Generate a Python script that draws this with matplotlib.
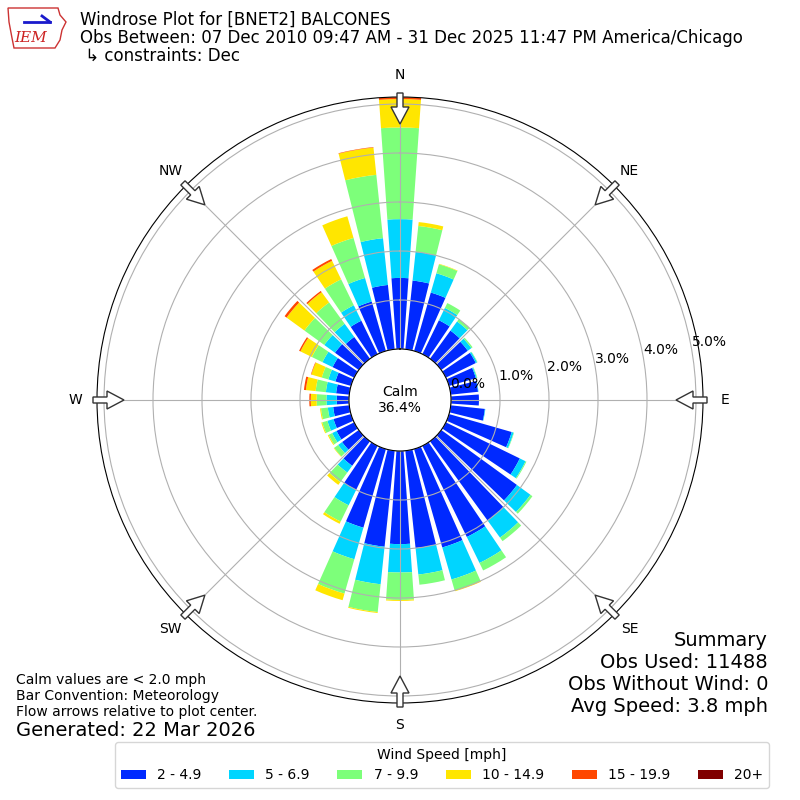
import numpy as np
import matplotlib
matplotlib.use("Agg")
import matplotlib.pyplot as plt
from matplotlib.patches import Patch, FancyArrow, Polygon

# wind directions (deg, meteorological) and percent of obs per speed bin
directions = np.arange(0, 360, 10)
bin_labels = ["2 - 4.9", "5 - 6.9", "7 - 9.9", "10 - 14.9", "15 - 19.9", "20+"]

pct_2_5 = [1.45, 1.41, 1.24, 0.77, 0.71, 0.67, 0.68, 0.57, 0.56, 0.57,
           0.70, 1.33, 1.68, 1.91, 2.00, 2.07, 2.09, 2.00, 1.90, 1.97,
           1.67, 1.00, 0.62, 0.42, 0.40, 0.37, 0.33, 0.25, 0.27, 0.33,
           0.49, 0.60, 0.55, 0.76, 1.05, 1.32]
pct_5_7 = [1.20, 0.59, 0.41, 0.28, 0.23, 0.09, 0.03, 0.02, 0.01, 0.00,
           0.01, 0.04, 0.13, 0.34, 0.43, 0.59, 0.68, 0.54, 0.58, 0.77,
           0.67, 0.35, 0.17, 0.10, 0.10, 0.13, 0.11, 0.21, 0.21, 0.15,
           0.23, 0.27, 0.33, 0.35, 0.50, 0.96]
pct_7_10 = [1.87, 0.53, 0.19, 0.11, 0.06, 0.03, 0.01, 0.01, 0.00, 0.00,
            0.00, 0.01, 0.02, 0.05, 0.09, 0.17, 0.23, 0.21, 0.56, 0.57,
            0.73, 0.37, 0.24, 0.10, 0.08, 0.11, 0.14, 0.20, 0.21, 0.14,
            0.24, 0.50, 0.54, 0.59, 0.85, 1.30]
pct_10_15 = [0.58, 0.08, 0.01, 0.00, 0.00, 0.00, 0.00, 0.00, 0.00, 0.00,
             0.00, 0.00, 0.00, 0.00, 0.00, 0.00, 0.02, 0.00, 0.02, 0.02,
             0.14, 0.05, 0.07, 0.01, 0.02, 0.02, 0.02, 0.12, 0.20, 0.22,
             0.26, 0.45, 0.26, 0.42, 0.46, 0.56]
pct_15_20 = [0.04, 0.00, 0.00, 0.00, 0.00, 0.00, 0.00, 0.00, 0.00, 0.00,
             0.00, 0.00, 0.00, 0.00, 0.00, 0.00, 0.00, 0.00, 0.00, 0.00,
             0.00, 0.00, 0.00, 0.00, 0.00, 0.00, 0.00, 0.03, 0.04, 0.01,
             0.03, 0.05, 0.03, 0.04, 0.00, 0.01]
pct_20_up = [0.0] * 36

calm_pct = 36.4
rticks = [0, 1, 2, 3, 4, 5]
compass = ["N", "NE", "E", "SE", "S", "SW", "W", "NW"]

bins = [pct_2_5, pct_5_7, pct_7_10, pct_10_15, pct_15_20, pct_20_up]
colors = matplotlib.colormaps["jet"](np.arange(1, 7) / 6.0)

fig = plt.figure(figsize=(8, 8), dpi=100)
R = 303 / 800.0
ax = fig.add_axes([0.5 - R, 0.5 - R, 2 * R, 2 * R], projection="polar")
ax.set_theta_zero_location("N")
ax.set_theta_direction(-1)

theta = np.deg2rad(directions)
bottom = np.zeros(len(directions))
for vals, col in zip(bins, colors):
    vals = np.array(vals)
    ax.bar(theta, vals, width=np.deg2rad(8), bottom=bottom, color=col,
           linewidth=0, zorder=1)
    bottom = bottom + vals

ax.set_rorigin(-1.041)
ax.set_ylim(0, 5.143)
ax.set_yticks(rticks)
ax.set_yticklabels([f"{t:.1f}%" for t in rticks], fontsize=10)
ax.set_rlabel_position(80)
ax.set_xticks(np.deg2rad(np.arange(0, 360, 45)))
ax.set_xticklabels(compass, fontsize=10)
ax.tick_params(axis="x", pad=5)
ax.grid(True, color="#b0b0b0", linewidth=0.8)

ax.text(0.5, 0.5, f"Calm\n{calm_pct:.1f}%", transform=ax.transAxes,
        ha="center", va="center", fontsize=10)

# hollow flow arrows pointing to the centre
for a in np.deg2rad(np.arange(0, 360, 45)):
    ux, uy = np.sin(a), np.cos(a)
    x0 = 0.5 + ux * 307 / 800.0
    y0 = 0.5 + uy * 307 / 800.0
    arr = FancyArrow(x0, y0, -ux * 31 / 800.0, -uy * 31 / 800.0,
                     width=6 / 800.0, head_width=18 / 800.0,
                     head_length=17 / 800.0, length_includes_head=True,
                     facecolor="white", edgecolor="#333333", linewidth=1,
                     transform=fig.transFigure, zorder=5)
    fig.patches.append(arr)

# titles
fig.text(80 / 800, 1 - 20 / 800, "Windrose Plot for [BNET2] BALCONES",
         fontsize=12, va="center")
fig.text(80 / 800, 1 - 38 / 800,
         "Obs Between: 07 Dec 2010 09:47 AM - 31 Dec 2025 11:47 PM America/Chicago",
         fontsize=12, va="center")
fig.text(80 / 800, 1 - 56 / 800, " \u21b3 constraints: Dec", fontsize=12,
         va="center")

# IEM logo (rough)
iowa = [(8, 8), (58, 8), (60, 15), (66, 22), (62, 30), (60, 40), (55, 48),
        (14, 48), (12, 38), (9, 22)]
fig.patches.append(Polygon([(x / 800, 1 - y / 800) for x, y in iowa],
                           closed=True, facecolor="white", edgecolor="#cc3333",
                           linewidth=1, transform=fig.transFigure))
fig.lines.append(plt.Line2D([24 / 800, 50 / 800], [1 - 22 / 800, 1 - 22 / 800],
                            color="#1a1acc", linewidth=2,
                            transform=fig.transFigure))
fig.lines.append(plt.Line2D([42 / 800, 50 / 800], [1 - 16 / 800, 1 - 22 / 800],
                            color="#1a1acc", linewidth=2,
                            transform=fig.transFigure))
fig.text(31 / 800, 1 - 38 / 800, "IEM", color="#cc2222", fontsize=11,
         family="DejaVu Serif", style="italic", ha="center", va="center")

# notes
fig.text(16 / 800, 1 - 680 / 800, "Calm values are < 2.0 mph", fontsize=10,
         va="center")
fig.text(16 / 800, 1 - 696 / 800, "Bar Convention: Meteorology", fontsize=10,
         va="center")
fig.text(16 / 800, 1 - 712 / 800, "Flow arrows relative to plot center.",
         fontsize=10, va="center")
fig.text(16 / 800, 1 - 730 / 800, "Generated: 22 Mar 2026", fontsize=14,
         va="center")

summary = ["Summary", "Obs Used: 11488", "Obs Without Wind: 0",
           "Avg Speed: 3.8 mph"]
for i, line in enumerate(summary):
    fig.text(768 / 800, 1 - (640 + 22 * i) / 800, line, fontsize=14,
             ha="right", va="center")

handles = [Patch(facecolor=c) for c in colors]
fig.legend(handles, bin_labels, loc="center", bbox_to_anchor=(442 / 800, 35 / 800),
           ncol=6, title="Wind Speed [mph]", fontsize=10, title_fontsize=10,
           handlelength=1.8)

fig.savefig("out.png", dpi=100)
